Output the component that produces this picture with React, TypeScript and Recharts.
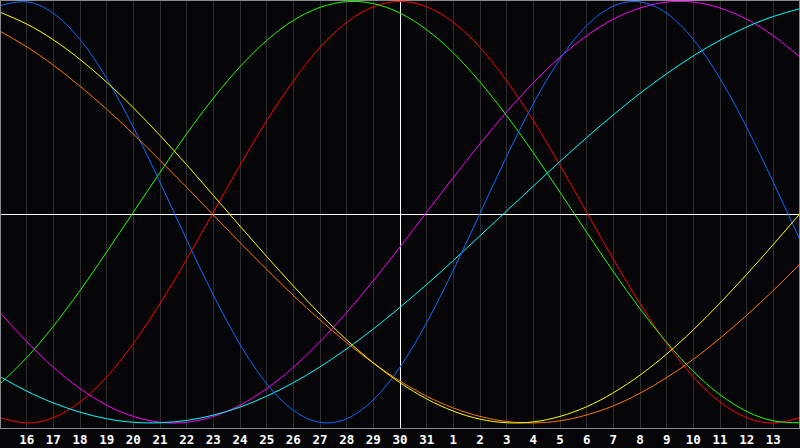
import React from 'react';
import { LineChart, Line, XAxis, YAxis, CartesianGrid, ReferenceLine } from 'recharts';

// day labels, 15th of one month to the 14th of the next
const days = [15, 16, 17, 18, 19, 20, 21, 22, 23, 24, 25, 26, 27, 28, 29, 30, 31, 1, 2, 3, 4, 5, 6, 7, 8, 9, 10, 11, 12, 13, 14];

// curve values, -100..100
const blue = [98, 99.8, 94.4, 82, 63.5, 40.3, 14.2, -13.1, -39.3, -62.7, -81.4, -94, -99.7, -98, -89, -73.5, -52.4, -27.5, -0.6, 26.5, 51.5, 72.7, 88.5, 97.8, 99.8, 94.4, 82, 63.5, 40.3, 14.2, -13.1];
const green = [-81.5, -69, -54.1, -37.2, -18.9, 0, 18.9, 37.2, 54.1, 69, 81.5, 91, 97.2, 99.9, 99, 94.5, 86.6, 75.6, 61.8, 45.8, 28.2, 9.5, -9.5, -28.2, -45.8, -61.8, -75.6, -86.6, -94.5, -99, -99.9];
const red = [-97.5, -100, -97.5, -90.1, -78.2, -62.3, -43.4, -22.3, 0, 22.3, 43.4, 62.3, 78.2, 90.1, 97.5, 100, 97.5, 90.1, 78.2, 62.3, 43.4, 22.3, 0, -22.3, -43.4, -62.3, -78.2, -90.1, -97.5, -100, -97.5];
const magenta = [-47.6, -61.4, -73.6, -83.7, -91.6, -96.9, -99.7, -99.7, -96.9, -91.6, -83.7, -73.6, -61.4, -47.6, -32.5, -16.5, 0, 16.5, 32.5, 47.6, 61.4, 73.6, 83.7, 91.6, 96.9, 99.7, 99.7, 96.9, 91.6, 83.7, 73.6];
const cyan = [-78, -84.9, -90.5, -94.9, -98, -99.7, -99.9, -98.8, -96.3, -92.5, -87.3, -80.9, -73.4, -64.8, -55.4, -45.1, -34.3, -22.9, -11.2, 0.6, 12.4, 24.1, 35.4, 46.2, 56.4, 65.7, 74.2, 81.6, 87.9, 92.9, 96.6];
const yellow = [94.9, 89.3, 81.8, 72.5, 61.7, 49.6, 36.4, 22.5, 8, -6.6, -21, -35, -48.3, -60.6, -71.5, -80.9, -88.6, -94.4, -98.2, -99.9, -99.5, -96.9, -92.3, -85.7, -77.3, -67.3, -55.8, -43.1, -29.5, -15.3, -0.7];
const orange = [85.9, 78.5, 69.8, 59.8, 48.9, 37.1, 24.6, 11.8, -1.3, -14.4, -27.1, -39.5, -51.1, -61.9, -71.6, -80.1, -87.3, -92.9, -96.9, -99.3, -100, -99, -96.2, -91.9, -85.9, -78.5, -69.8, -59.8, -48.9, -37.1, -24.6];

const data = days.map((d, i) => ({
  idx: i,
  day: d,
  red: red[i],
  green: green[i],
  blue: blue[i],
  magenta: magenta[i],
  cyan: cyan[i],
  orange: orange[i],
  yellow: yellow[i],
}));

const ticks = days.map((_, i) => i);

const series = [
  { key: 'red', color: '#ff0000' },
  { key: 'green', color: '#22ff00' },
  { key: 'magenta', color: '#ff00ff' },
  { key: 'cyan', color: '#00ffff' },
  { key: 'blue', color: '#0a6cff' },
  { key: 'orange', color: '#ff7700' },
  { key: 'yellow', color: '#ffff00' },
];

export default function App() {
  return (
    <div style={{ position: 'absolute', left: 0, top: 0, width: 800, height: 448, background: '#050508' }}>
      <LineChart width={800} height={448} data={data} margin={{ top: 0, right: 0, bottom: 0, left: 0 }}>
        <CartesianGrid horizontal={false} stroke="#2e2e2e" shapeRendering="crispEdges" />
        <XAxis
          dataKey="idx"
          type="number"
          domain={[0, 30]}
          ticks={ticks}
          interval={0}
          height={20}
          axisLine={false}
          tickLine={false}
          tickMargin={1}
          tick={{ fill: '#ffffff', fontSize: 12.5, fontWeight: 'bold', fontFamily: 'DejaVu Sans Mono' }}
          tickFormatter={(i: number) => (i === 0 || i === 30 ? '' : String(days[i]))}
        />
        <YAxis hide domain={[-102.4, 100.7]} />
        <ReferenceLine y={-1.1} stroke="#ffffff" shapeRendering="crispEdges" />
        <ReferenceLine x={15} stroke="#ffffff" shapeRendering="crispEdges" />
        {series.map((s) => (
          <Line
            key={s.key}
            type="natural"
            dataKey={s.key}
            stroke={s.color}
            strokeWidth={1}
            dot={false}
            activeDot={false}
            isAnimationActive={false}
          />
        ))}
      </LineChart>
      <div
        style={{
          position: 'absolute',
          left: 0,
          top: 0,
          width: 800,
          height: 429,
          boxSizing: 'border-box',
          border: '1px solid #8a8a8a',
          pointerEvents: 'none',
        }}
      />
    </div>
  );
}
